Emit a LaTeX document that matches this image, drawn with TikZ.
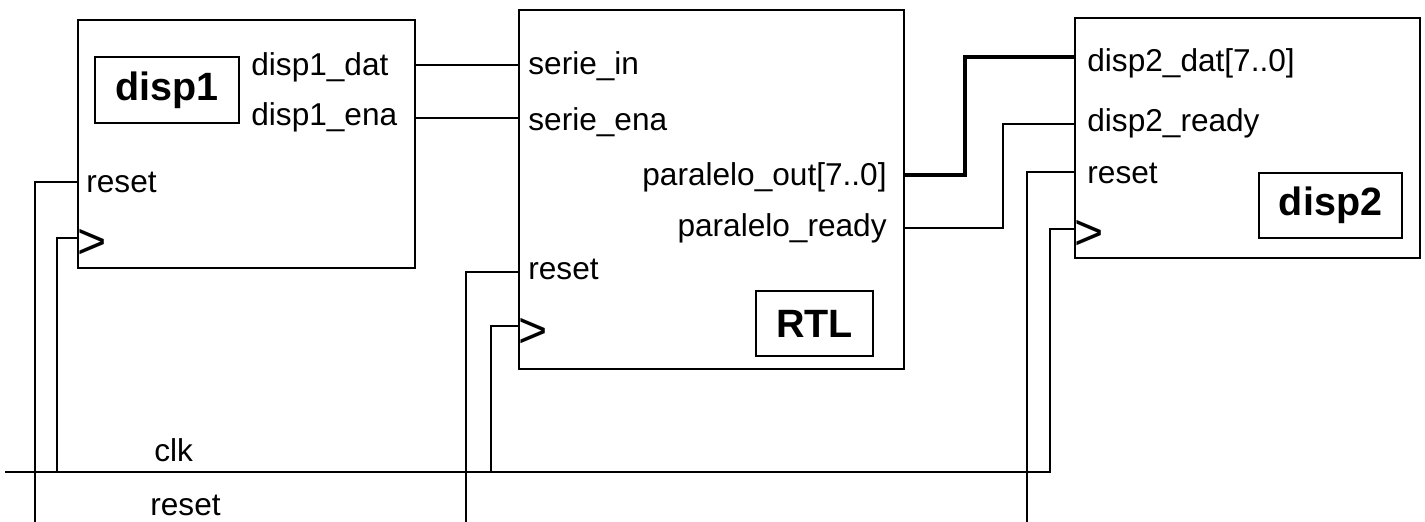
\documentclass[tikz,border=0pt]{standalone}
\usepackage{fontspec}
\setmainfont{Liberation Sans}
\begin{document}
\begin{tikzpicture}[x=0.5pt,y=-0.5pt,
  block/.style={draw, line width=1pt, rectangle, inner sep=0pt, anchor=north west},
  tagbox/.style={draw, line width=1pt, rectangle, inner sep=0pt, anchor=north west, font=\fontsize{19.75}{22}\selectfont\bfseries},
  lbl/.style={inner sep=0pt, anchor=base west, font=\fontsize{15.8}{18}\selectfont},
  rlbl/.style={inner sep=0pt, anchor=base east, font=\fontsize{15.8}{18}\selectfont},
  clksym/.style={inner sep=0pt, anchor=base west, font=\fontsize{25}{28}\selectfont},
  wire/.style={line width=1pt},
  bus/.style={line width=1.75pt}]
\useasboundingbox (0,0) rectangle (1425,522);

% blocks
\node[block, minimum width=168.5pt, minimum height=124pt] (disp1) at (77,19) {};
\node[block, minimum width=192.5pt, minimum height=179.5pt] (rtl) at (518,9) {};
\node[block, minimum width=172.5pt, minimum height=120pt] (disp2) at (1074,17) {};

% name tags
\node[tagbox, minimum width=72pt, minimum height=33pt] (tag1) at (94,56) {disp1};
\node[tagbox, minimum width=58.5pt, minimum height=32.5pt] (tagr) at (755,290) {RTL};
\node[tagbox, minimum width=71.5pt, minimum height=32.5pt] (tag2) at (1258,172) {disp2};

% disp1 ports
\node[lbl] (l1dat) at (251,76) {disp1\_dat};
\node[lbl] (l1ena) at (251,126) {disp1\_ena};
\node[lbl] (l1rst) at (86,193) {reset};
\node[clksym] (c1) at (77,259) {>};

% RTL ports
\node[lbl] (lsin) at (528,75) {serie\_in};
\node[lbl] (lsena) at (528,131) {serie\_ena};
\node[rlbl] (lpout) at (887,186) {paralelo\_out[7..0]};
\node[rlbl] (lprdy) at (887,237) {paralelo\_ready};
\node[lbl] (lrrst) at (528,280) {reset};
\node[clksym] (cr) at (518,348) {>};

% disp2 ports
\node[lbl] (l2dat) at (1087,72) {disp2\_dat[7..0]};
\node[lbl] (l2rdy) at (1087,132) {disp2\_ready};
\node[lbl] (l2rst) at (1087,184) {reset};
\node[clksym] (c2) at (1074,250) {>};

% global signal labels
\node[lbl] (lclk) at (154,462) {clk};
\node[lbl] (lrst) at (150,516) {reset};

% port coordinates
\coordinate (p1dat) at (414,65);
\coordinate (p1ena) at (414,118);
\coordinate (p1rst) at (77,182);
\coordinate (p1clk) at (77,238);
\coordinate (psin) at (518,65);
\coordinate (psena) at (518,118);
\coordinate (prrst) at (518,272);
\coordinate (prclk) at (518,326);
\coordinate (ppout) at (903,175);
\coordinate (pprdy) at (903,228);
\coordinate (p2dat) at (1074,57);
\coordinate (p2rdy) at (1074,124);
\coordinate (p2rst) at (1074,172);
\coordinate (p2clk) at (1074,229);

% bends and ends
\coordinate (b1rst) at (35,182);
\coordinate (e1rst) at (35,522);
\coordinate (b1clk) at (57,238);
\coordinate (j1clk) at (57,472);
\coordinate (brrst) at (466,272);
\coordinate (erst) at (466,522);
\coordinate (brclk) at (491,326);
\coordinate (jrclk) at (491,472);
\coordinate (b2rst) at (1027,172);
\coordinate (e2rst) at (1027,522);
\coordinate (b2clk) at (1050,229);
\coordinate (j2clk) at (1050,472);
\coordinate (clkin) at (5,472);

% connections
\draw[wire] (p1dat) -- (psin);
\draw[wire] (p1ena) -- (psena);
\draw[bus] (ppout) -- (965,175) -- (965,57) -- (p2dat);
\draw[wire] (pprdy) -- (1003,228) -- (1003,124) -- (p2rdy);

% reset net
\draw[wire] (p1rst) -- (b1rst) -- (e1rst);
\draw[wire] (prrst) -- (brrst) -- (erst);
\draw[wire] (p2rst) -- (b2rst) -- (e2rst);

% clock net
\draw[wire] (clkin) -- (j2clk) -- (b2clk) -- (p2clk);
\draw[wire] (j1clk) -- (b1clk) -- (p1clk);
\draw[wire] (jrclk) -- (brclk) -- (prclk);
\end{tikzpicture}
\end{document}
